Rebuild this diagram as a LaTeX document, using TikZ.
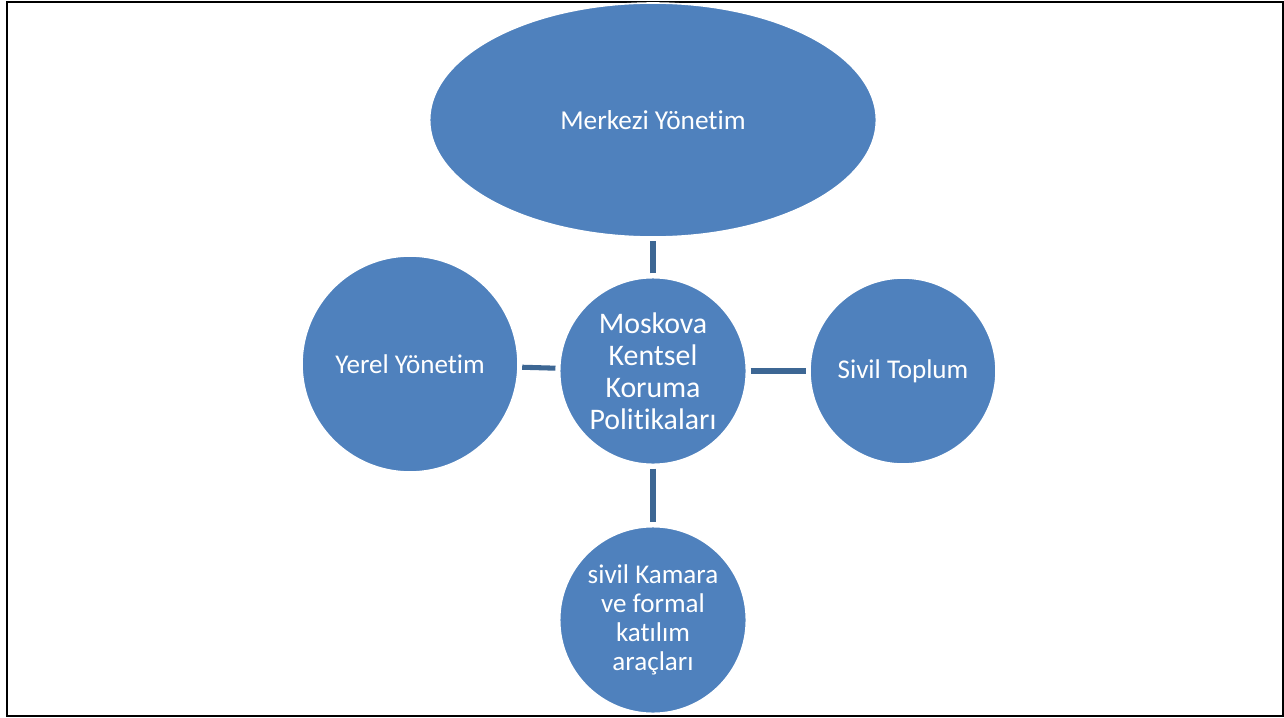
\documentclass[tikz,border=0pt]{standalone}
\usepackage{fontspec}
\setmainfont{Carlito}[Ligatures=NoCommon]
\usetikzlibrary{shapes.geometric}
\definecolor{bubble}{HTML}{4F81BD}
\definecolor{linkcol}{HTML}{3D6794}

\begin{document}
\begin{tikzpicture}[ x=0.75pt, y=-0.75pt,
        bubble/.style={ fill=bubble, draw=white, line width=1.2pt,
          text=white, align=center, inner sep=0pt },
        small/.style={ bubble, circle, font=\fontsize{20.3}{21.6}\selectfont },
        link/.style={ draw=linkcol, line width=3.8pt, shorten <=2.6pt,
          shorten >=2.6pt } ]
        \useasboundingbox (0,0) rectangle (1284,717);
        \draw[line width=1.6pt] (7,2) rectangle (1283,716);

        \node[bubble, ellipse, minimum width=335pt, minimum height=175.5pt,
          font=\fontsize{20.5}{22}\selectfont] (top) at (653,120) {Merkezi Yönetim};
        \node[bubble, circle, minimum size=140pt,
          font=\fontsize{22.4}{24}\selectfont] (center) at (653,371)
          {Moskova\\Kentsel\\Koruma\\Politikaları};
        \node[small, minimum size=162pt] (left) at (410,364) {Yerel Yönetim};
        \node[small, minimum size=139.5pt] (right) at (903,371) {Sivil Toplum};
        \node[small, minimum size=140pt] (bottom) at (653,620)
          {sivil Kamara\\ve formal\\katılım\\araçları};

        \foreach \n in {top,left,right,bottom}
        \draw[link] (center) -- (\n);
      \end{tikzpicture}
\end{document}
